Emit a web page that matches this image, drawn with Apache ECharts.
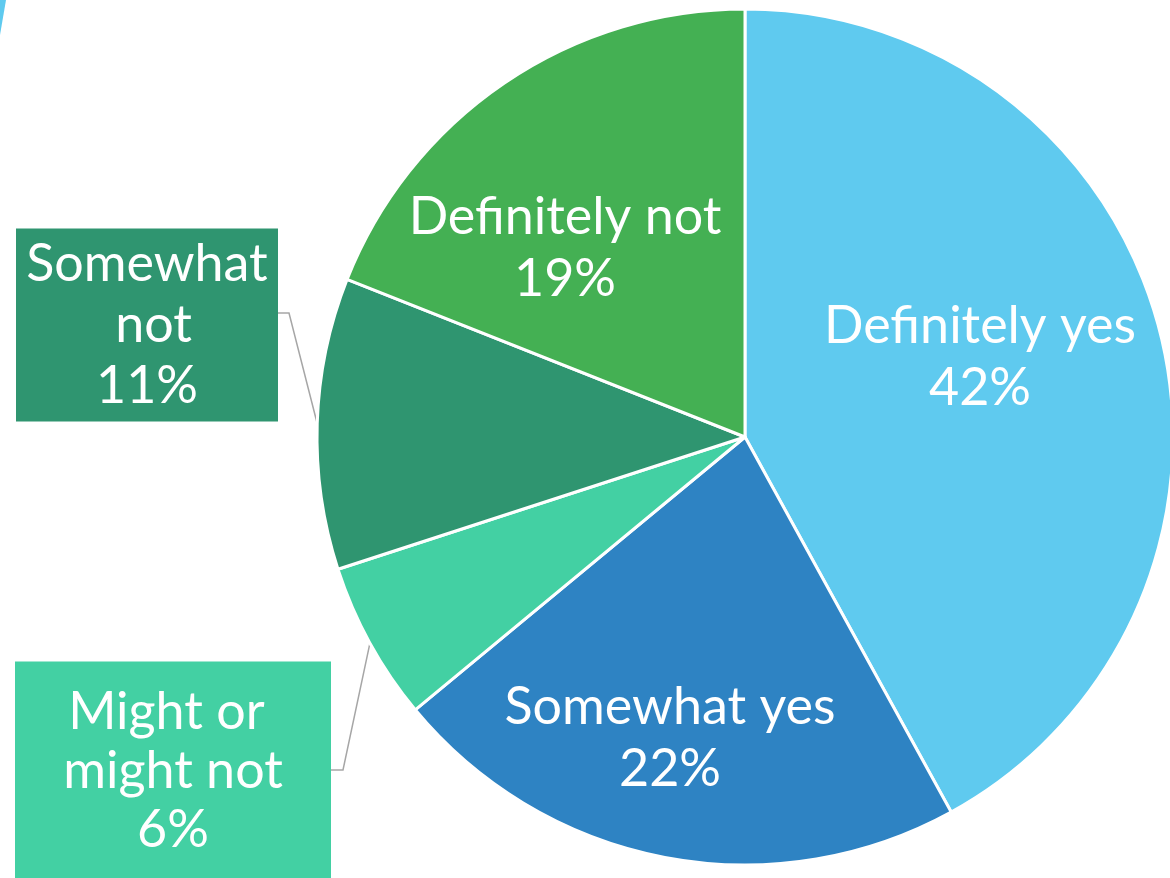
<!DOCTYPE html>
<html>
<head>
<meta charset="utf-8">
<script src="https://cdn.jsdelivr.net/npm/echarts@6/dist/echarts.min.js"></script>
<style>
  html, body { margin: 0; padding: 0; background: #ffffff; }
  #chart { width: 1170px; height: 878px; }
</style>
</head>
<body>
<div id="chart"></div>
<script>
// Survey answers, clockwise from 12 o'clock
const categories = ['Definitely yes', 'Somewhat yes', 'Might or might not', 'Somewhat not', 'Definitely not'];
const shares = [42, 22, 6, 11, 19];
const sliceColors = ['#5FCAEF', '#2E83C3', '#43D0A3', '#2F9570', '#44B053'];

// Where each label sits. Boxed labels outside the pie also carry
// the box size and the elbow of their leader line.
const labelSpots = [
  { x: 980, y: 357 },
  { x: 670, y: 738 },
  { x: 173, y: 771, boxed: true, w: 236, lh: 59, padV: 21, padH: 40, elbowX: 343, lineY: 770 },
  { x: 147, y: 325, boxed: true, w: 250, lh: 61, padV: 5, padH: 6, elbowX: 289, lineY: 313 },
  { x: 565, y: 248 }
];

const FONT = 'Lato';

const seriesData = categories.map(function (name, i) {
  const spot = labelSpots[i];
  const item = {
    name: name,
    value: shares[i],
    itemStyle: { color: sliceColors[i] }
  };
  if (spot.boxed) {
    item.label = {
      position: 'outside',
      width: spot.w,
      overflow: 'break',
      lineHeight: spot.lh,
      padding: [spot.padV, spot.padH],
      backgroundColor: sliceColors[i]
    };
    item.labelLine = { show: true };
  } else {
    item.label = { position: 'inside' };
    item.labelLine = { show: false };
  }
  return item;
});

const chart = echarts.init(document.getElementById('chart'), null, { renderer: 'canvas' });

chart.setOption({
  backgroundColor: '#ffffff',
  animation: false,
  graphic: [{
    // thin cyan sliver in the upper-left corner
    type: 'polygon',
    shape: { points: [[0, 0], [6, 0], [0, 35]] },
    style: { fill: '#5FCAEF' },
    silent: true
  }],
  series: [{
    type: 'pie',
    center: [745, 437],
    radius: 428,
    startAngle: 90,
    clockwise: true,
    avoidLabelOverlap: false,
    silent: true,
    emphasis: { disabled: true },
    itemStyle: { borderColor: '#ffffff', borderWidth: 3 },
    label: {
      show: true,
      color: '#ffffff',
      fontFamily: FONT,
      fontSize: 52,
      lineHeight: 62,
      align: 'center',
      formatter: '{b}\n{c}%'
    },
    labelLine: {
      show: false,
      length: 10,
      length2: 10,
      smooth: false,
      lineStyle: { color: '#A6A6A6', width: 1.5 }
    },
    labelLayout: function (p) {
      const s = labelSpots[p.dataIndex];
      const out = { x: s.x, y: s.y, align: 'center', verticalAlign: 'middle' };
      if (s.boxed && p.labelLinePoints) {
        const edge = p.labelLinePoints[0];
        const boxRight = s.x + s.w / 2 + s.padH;
        out.labelLinePoints = [edge, [s.elbowX, s.lineY], [boxRight, s.lineY]];
      }
      return out;
    },
    data: seriesData
  }]
});
</script>
</body>
</html>
